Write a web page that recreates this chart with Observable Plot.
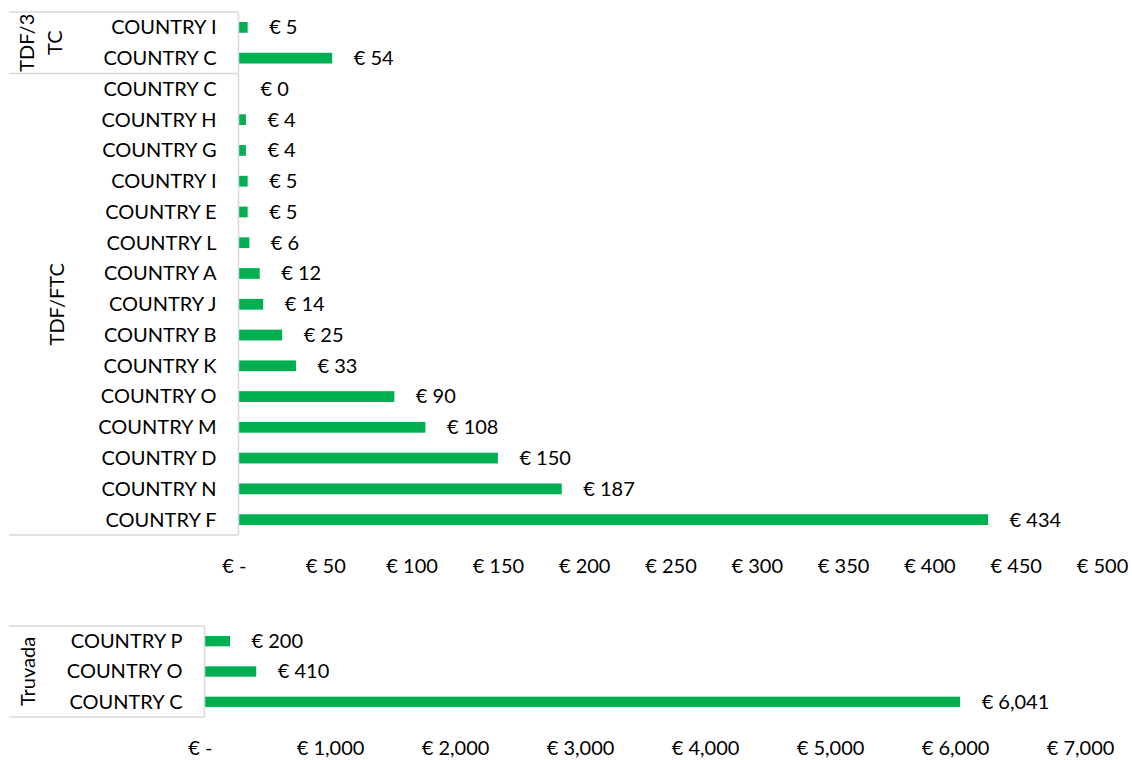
<!DOCTYPE html>
<html>
<head>
<meta charset="utf-8">
<script src="https://cdn.jsdelivr.net/npm/d3@7"></script>
<script src="https://cdn.jsdelivr.net/npm/@observablehq/plot@0.6"></script>
<style>
  html, body { margin: 0; padding: 0; background: #fff; }
  #chart { position: relative; width: 1132px; height: 760px; background: #fff; font-family: Lato, "Open Sans", sans-serif; }
  #top, #bottom { position: absolute; left: 0; }
  #top { top: 0; }
  #bottom { top: 600px; }
</style>
</head>
<body>
<div id="chart"><div id="top"></div><div id="bottom"></div></div>
<script>
// ---------- DATA ----------
const groupTDF3TC = "TDF/3TC";
const countriesTDF3TC = ["COUNTRY I", "COUNTRY C"];
const valuesTDF3TC = [5, 54];

const groupTDFFTC = "TDF/FTC";
const countriesTDFFTC = ["COUNTRY C", "COUNTRY H", "COUNTRY G", "COUNTRY I", "COUNTRY E", "COUNTRY L", "COUNTRY A",
  "COUNTRY J", "COUNTRY B", "COUNTRY K", "COUNTRY O", "COUNTRY M", "COUNTRY D", "COUNTRY N", "COUNTRY F"];
const valuesTDFFTC = [0, 4, 4, 5, 5, 6, 12, 14, 25, 33, 90, 108, 150, 187, 434];

const groupTruvada = "Truvada";
const countriesTruvada = ["COUNTRY P", "COUNTRY O", "COUNTRY C"];
const valuesTruvada = [200, 410, 6041];

const xTicksTop = [0, 50, 100, 150, 200, 250, 300, 350, 400, 450, 500];
const xTicksBottom = [0, 1000, 2000, 3000, 4000, 5000, 6000, 7000];

// ---------- STYLE ----------
const GREEN = "#00b050";
const FONT = "Lato, 'Open Sans', sans-serif";
const FS = 20;
const LINE = "#d9d9d9";
// group label placement (screen x of each wrapped line) and wrapping
const groupLabelLines = { "TDF/3TC": ["TDF/3", "TC"], "TDF/FTC": ["TDF/FTC"], "Truvada": ["Truvada"] };
const groupLabelX = { "TDF/3TC": [27, 55], "TDF/FTC": [57], "Truvada": [28] };

function rows(group, countries, values) {
  return countries.map((c, i) => ({ group, country: c, key: group + "|" + c, value: values[i] }));
}
const euro = d3.format(",");
const fmtVal = v => "€ " + euro(v);
const fmtTick = v => v === 0 ? "€ -\u00a0\u00a0" : "€ " + euro(v);

// custom mark: group boxes and rotated group labels, positioned via the y scale
function groupFrame(groups) {
  return (index, scales, values, dimensions) => {
    const y = scales.y;
    const dom = y.domain();
    const step = y(dom[1]) - y(dom[0]);
    const x1 = 9, x2 = dimensions.marginLeft - 0.5;
    const g = d3.create("svg:g");
    const top = y(dom[0]);
    const bottom = y(dom[dom.length - 1]) + step;
    g.append("line").attr("x1", x2).attr("x2", x2).attr("y1", top).attr("y2", bottom)
      .attr("stroke", LINE).attr("stroke-width", 1.5);
    const bounds = [top];
    for (const gr of groups) {
      const gTop = y(gr.first);
      const gBot = y(gr.last) + step;
      bounds.push(gBot);
      const cy = (gTop + gBot) / 2;
      const lines = groupLabelLines[gr.name];
      lines.forEach((ln, i) => {
        g.append("text")
          .attr("transform", `translate(${groupLabelX[gr.name][i]},${cy}) rotate(-90)`)
          .attr("text-anchor", "middle")
          .attr("dy", "0.35em")
          .attr("fill", "#000")
          .style("font-family", FONT).style("font-size", FS + "px")
          .text(ln);
      });
    }
    for (const b of bounds) {
      g.append("line").attr("x1", x1).attr("x2", x2).attr("y1", b).attr("y2", b)
        .attr("stroke", LINE).attr("stroke-width", 1.5);
    }
    return g.node();
  };
}

function makeChart({ data, groups, xDomain, xTicks, width, height, marginTop, marginBottom, marginLeft, marginRight }) {
  return Plot.plot({
    width, height, marginTop, marginBottom, marginLeft, marginRight,
    style: { fontFamily: FONT, fontSize: FS + "px", color: "#000", background: "#fff", overflow: "visible" },
    x: { domain: xDomain, ticks: xTicks, tickFormat: fmtTick, tickSize: 0, tickPadding: 23, label: null, axis: "bottom" },
    y: { domain: data.map(d => d.key), padding: 0, round: false, tickSize: 0, tickPadding: 23, label: null,
         tickFormat: k => k.split("|")[1] },
    marks: [
      Plot.barX(data, { x: "value", y: "key", fill: GREEN, insetTop: 10, insetBottom: 10 }),
      Plot.text(data, { x: "value", y: "key", text: d => fmtVal(d.value), textAnchor: "start", dx: 21,
        fill: "#000", fontSize: FS }),
      groupFrame(groups)
    ]
  });
}

const topData = [...rows(groupTDF3TC, countriesTDF3TC, valuesTDF3TC), ...rows(groupTDFFTC, countriesTDFFTC, valuesTDFFTC)];
const topGroups = [
  { name: groupTDF3TC, first: topData[0].key, last: topData[countriesTDF3TC.length - 1].key },
  { name: groupTDFFTC, first: topData[countriesTDF3TC.length].key, last: topData[topData.length - 1].key }
];
document.getElementById("top").append(makeChart({
  data: topData, groups: topGroups, xDomain: [0, 500], xTicks: xTicksTop,
  width: 1132, height: 600, marginTop: 12, marginBottom: 65, marginLeft: 239, marginRight: 30
}));

const botData = rows(groupTruvada, countriesTruvada, valuesTruvada);
const botGroups = [{ name: groupTruvada, first: botData[0].key, last: botData[botData.length - 1].key }];
document.getElementById("bottom").append(makeChart({
  data: botData, groups: botGroups, xDomain: [0, 7000], xTicks: xTicksBottom,
  width: 1132, height: 160, marginTop: 26, marginBottom: 43, marginLeft: 205, marginRight: 52
}));
</script>
</body>
</html>
